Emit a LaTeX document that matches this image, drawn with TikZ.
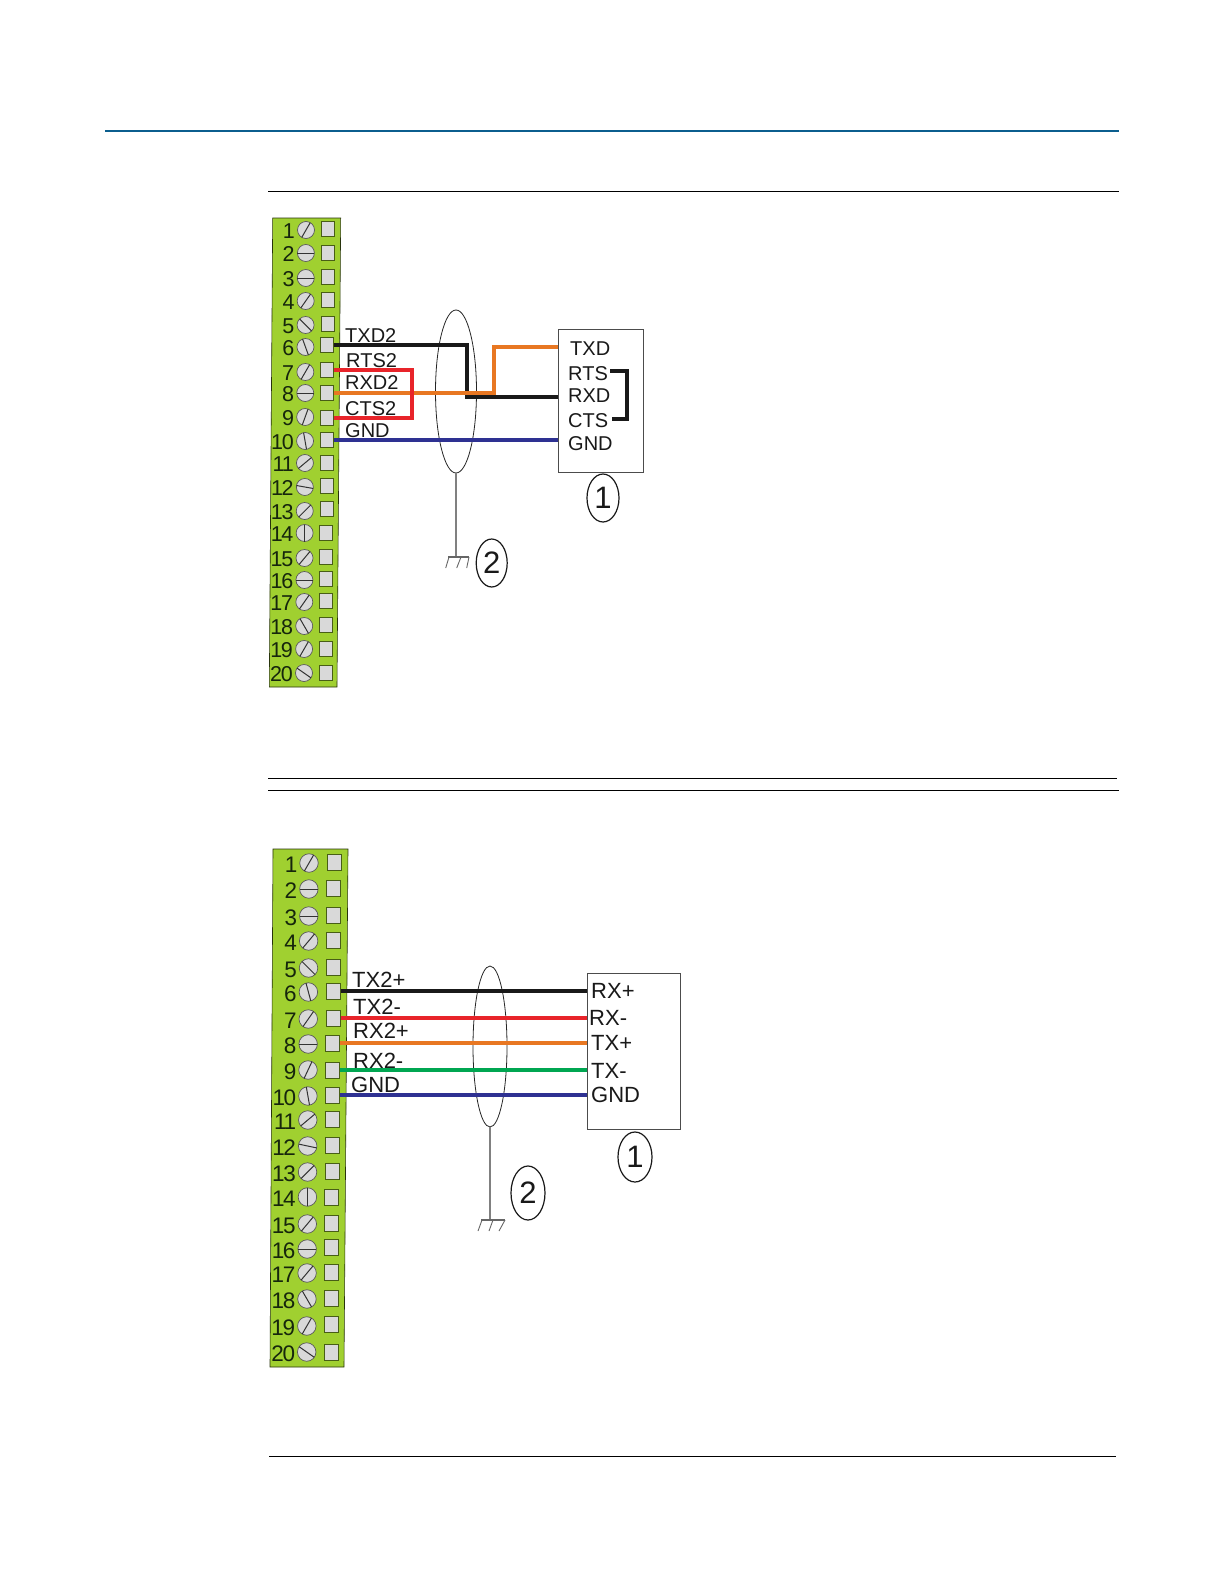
\documentclass[tikz,border=0pt]{standalone}
\usepackage{fontspec}
\setmainfont{Liberation Sans}
\usetikzlibrary{shapes.geometric}
\definecolor{stripgreen}{HTML}{A0D030}
\definecolor{wireorange}{HTML}{E87722}
\definecolor{wirered}{HTML}{E8242A}
\definecolor{wireblue}{HTML}{2E3192}
\definecolor{wiregreen}{HTML}{00A651}
\definecolor{rulerblue}{HTML}{0B5E8E}
\definecolor{inkdark}{HTML}{16260C}
\tikzset{
  strip/.style={fill=stripgreen,draw=black!75!stripgreen,line width=.6pt},
  screwhead/.style={circle,draw=black!65,fill=black!15,line width=.7pt,inner sep=0pt},
  slot/.style={draw=black!80,line width=1pt},
  pad/.style={rectangle,draw=black!55!stripgreen,fill=black!15,line width=1pt,inner sep=0pt,minimum width=13pt},
  termnum/.style={anchor=base east,inner sep=0pt,text=inkdark,font=\fontsize{21.5}{22}\selectfont\addfontfeatures{LetterSpace=-6}},
  lab/.style={anchor=base west,inner sep=0pt,text=black!90,font=\fontsize{20}{20}\selectfont},
  labb/.style={anchor=base west,inner sep=0pt,text=black!90,font=\fontsize{22}{22}\selectfont},
  wire/.style={line width=3.4pt,line join=miter},
  devbox/.style={rectangle,draw=black!70,fill=white,line width=.8pt,inner sep=0pt},
  shield/.style={ellipse,draw=black!85,line width=.8pt,inner sep=0pt},
  callout/.style={ellipse,draw=black!90,line width=1.2pt,inner sep=0pt,font=\fontsize{31}{31}\selectfont,text=black!90},
  earth/.style={draw=black!60,line width=1.1pt},
  pagerule/.style={draw=black,line width=.8pt}
}
\begin{document}
\begin{tikzpicture}[x=1pt,y=-1pt]
\useasboundingbox (0,0) rectangle (1224,1584);
% page rules
\coordinate (r1a) at (105,131); \coordinate (r1b) at (1119,131);
\draw[rulerblue,line width=2pt] (r1a) -- (r1b);
\coordinate (r2a) at (268,191); \coordinate (r2b) at (1119,191);
\draw[pagerule] (r2a) -- (r2b);
\coordinate (r3a) at (268,778); \coordinate (r3b) at (1117,778);
\draw[pagerule] (r3a) -- (r3b);
\coordinate (r4a) at (268,790); \coordinate (r4b) at (1119,790);
\draw[pagerule] (r4a) -- (r4b);
\coordinate (r5a) at (269,1456.5); \coordinate (r5b) at (1116,1456.5);
\draw[pagerule] (r5a) -- (r5b);

% ---------- upper strip ----------
\draw[strip] (272.7,218) -- (340.7,218) -- (337,687) -- (269.3,687) -- cycle;
\foreach \i/\sy/\qy/\ang in {1/230/229/60,2/253/253/0,3/278/277/0,4/301/300/55,5/325/324/-45,6/347/345/110,7/372/370/60,8/393/393/0,9/417/418/70,10/441/440/100,11/463/463/40,12/487/486/-10,13/511/509/45,14/533/533/90,15/558/557/50,16/580/579/0,17/602/601/55,18/626/625/-60,19/649/649/60,20/673/673/-35}{
  \pgfmathsetmacro\sx{306-(\i-1)*2/19}
  \pgfmathsetmacro\qx{328-(\i-1)*2.3/19}
  \node[screwhead,minimum size=17pt] (sa\i) at (\sx,\sy) {};
  \draw[slot] (sa\i.center) ++(\ang:8.5pt) -- ++(\ang+180:17pt);
  \node[pad,minimum height=15pt] (pa\i) at (\qx,\qy) {};
  \node[termnum] (na\i) at ([xshift=-11pt,yshift=-8pt]sa\i.center) {\i};
}
\node[devbox,minimum width=85pt,minimum height=143pt] (boxa) at (600.5,400.5) {};
\node[shield,minimum width=41pt,minimum height=163pt] (shieldA) at (456,391.5) {};
% ground A
\coordinate (gaTop) at (456,557);
\draw[earth,draw=black!50] (shieldA.south) -- (gaTop);
\coordinate (gaL) at (448,557); \coordinate (gaR) at (469,557);
\draw[earth] (gaL) -- (gaR);
\foreach \a/\b in {449/445.7,461/456.7,469/466.7}{\draw[earth,line width=.9pt] (\a,557) -- (\b,568);}
\node[callout,minimum width=31pt,minimum height=48pt] (cA2) at (491.7,563) {2};
\node[callout,minimum width=32pt,minimum height=48pt] (cA1) at (603,498) {1};
% labels A
\node[lab] (lTXD2) at (345,342) {TXD2};
\node[lab] (lRTS2) at (346,367) {RTS2};
\node[lab] (lRXD2) at (345,389) {RXD2};
\node[lab] (lCTS2) at (345,415) {CTS2};
\node[lab] (lGND2) at (345,437) {GND};
\node[lab] (rTXD) at (570,355) {TXD};
\node[lab] (rRTS) at (568,380) {RTS};
\node[lab] (rRXD) at (568,402) {RXD};
\node[lab] (rCTS) at (568,427) {CTS};
\node[lab] (rGND) at (568,450) {GND};
% wires A
\coordinate (pinTXD) at (558,347);
\coordinate (pinRXD) at (558,397);
\coordinate (pinGND) at (558,440);
\coordinate (bendK) at (467,397);
\coordinate (bendO) at (494,393);
\coordinate (bendR) at (412,370);
\draw[wire,black!90] (pa6.east) -| (bendK) -- (pinRXD);
\draw[wire,wireorange] (pa8.east) -- (bendO) |- (pinTXD);
\draw[wire,wirered] (pa7.east) -- (bendR) |- (pa9.east);
\draw[wire,wireblue] (pa10.east) -- (pinGND);
\coordinate (brT) at (610,371); \coordinate (brB) at (612,419); \coordinate (brC) at (627,371);
\draw[wire,black!90] (brT) -- (brC) |- (brB);

% ---------- lower strip ----------
\draw[strip] (273,849) -- (348,849) -- (344,1367) -- (270,1367) -- cycle;
\foreach \i/\sy/\qy/\ang in {1/863/862/60,2/889/888/0,3/916/915/0,4/941/940/50,5/968/967/-45,6/992/991/105,7/1019/1018/55,8/1044/1043/0,9/1070/1070/65,10/1096/1095/100,11/1120/1119/40,12/1146/1145/-12,13/1172/1171/45,14/1197/1197/90,15/1224/1223/50,16/1249/1247/0,17/1273/1272/50,18/1299/1298/-60,19/1326/1324/60,20/1352/1352/-35}{
  \pgfmathsetmacro\sx{309-(\i-1)*2.3/19}
  \pgfmathsetmacro\qx{334-(\i-1)*3/19}
  \node[screwhead,minimum size=18.5pt] (sb\i) at (\sx,\sy) {};
  \draw[slot] (sb\i.center) ++(\ang:9.2pt) -- ++(\ang+180:18.4pt);
  \node[pad,minimum width=14pt,minimum height=16pt] (pb\i) at (\qx,\qy) {};
  \node[termnum,font=\fontsize{22.5}{23}\selectfont\addfontfeatures{LetterSpace=-6}] (nb\i) at ([xshift=-11.5pt,yshift=-9pt]sb\i.center) {\i};
}
\node[devbox,minimum width=93pt,minimum height=156pt] (boxb) at (633.5,1051) {};
\node[shield,minimum width=34pt,minimum height=161pt] (shieldB) at (490,1046.5) {};
% ground B
\coordinate (gbTop) at (490,1220);
\draw[earth,draw=black!50] (shieldB.south) -- (gbTop);
\coordinate (gbL) at (481,1220); \coordinate (gbR) at (505,1220);
\draw[earth] (gbL) -- (gbR);
\foreach \a/\b in {482/478,493/489,505/499}{\draw[earth,line width=.9pt] (\a,1220) -- (\b,1231);}
\node[callout,minimum width=34pt,minimum height=54pt] (cB2) at (528,1193) {2};
\node[callout,minimum width=34pt,minimum height=50pt] (cB1) at (635,1157) {1};
% labels B
\node[labb] (lTXp) at (352,987) {TX2+};
\node[labb] (lTXm) at (353,1014) {TX2-};
\node[labb] (lRXp) at (353,1038) {RX2+};
\node[labb] (lRXm) at (353,1068) {RX2-};
\node[labb] (lGNDb) at (351,1092) {GND};
\node[labb] (rRXp) at (591,998) {RX+};
\node[labb] (rRXm) at (589,1025) {RX-};
\node[labb] (rTXp) at (591,1050) {TX+};
\node[labb] (rTXm) at (591,1078) {TX-};
\node[labb] (rGNDb) at (591,1102) {GND};
% wires B
\coordinate (pinB6) at (587,991);
\coordinate (pinB7) at (587,1018);
\coordinate (pinB8) at (587,1043);
\coordinate (pinB9) at (587,1070);
\coordinate (pinB10) at (587,1095);
\draw[wire,black!90] (pb6.east) -- (pinB6);
\draw[wire,wirered] (pb7.east) -- (pinB7);
\draw[wire,wireorange] (pb8.east) -- (pinB8);
\draw[wire,wiregreen] (pb9.east) -- (pinB9);
\draw[wire,wireblue] (pb10.east) -- (pinB10);
\end{tikzpicture}
\end{document}
